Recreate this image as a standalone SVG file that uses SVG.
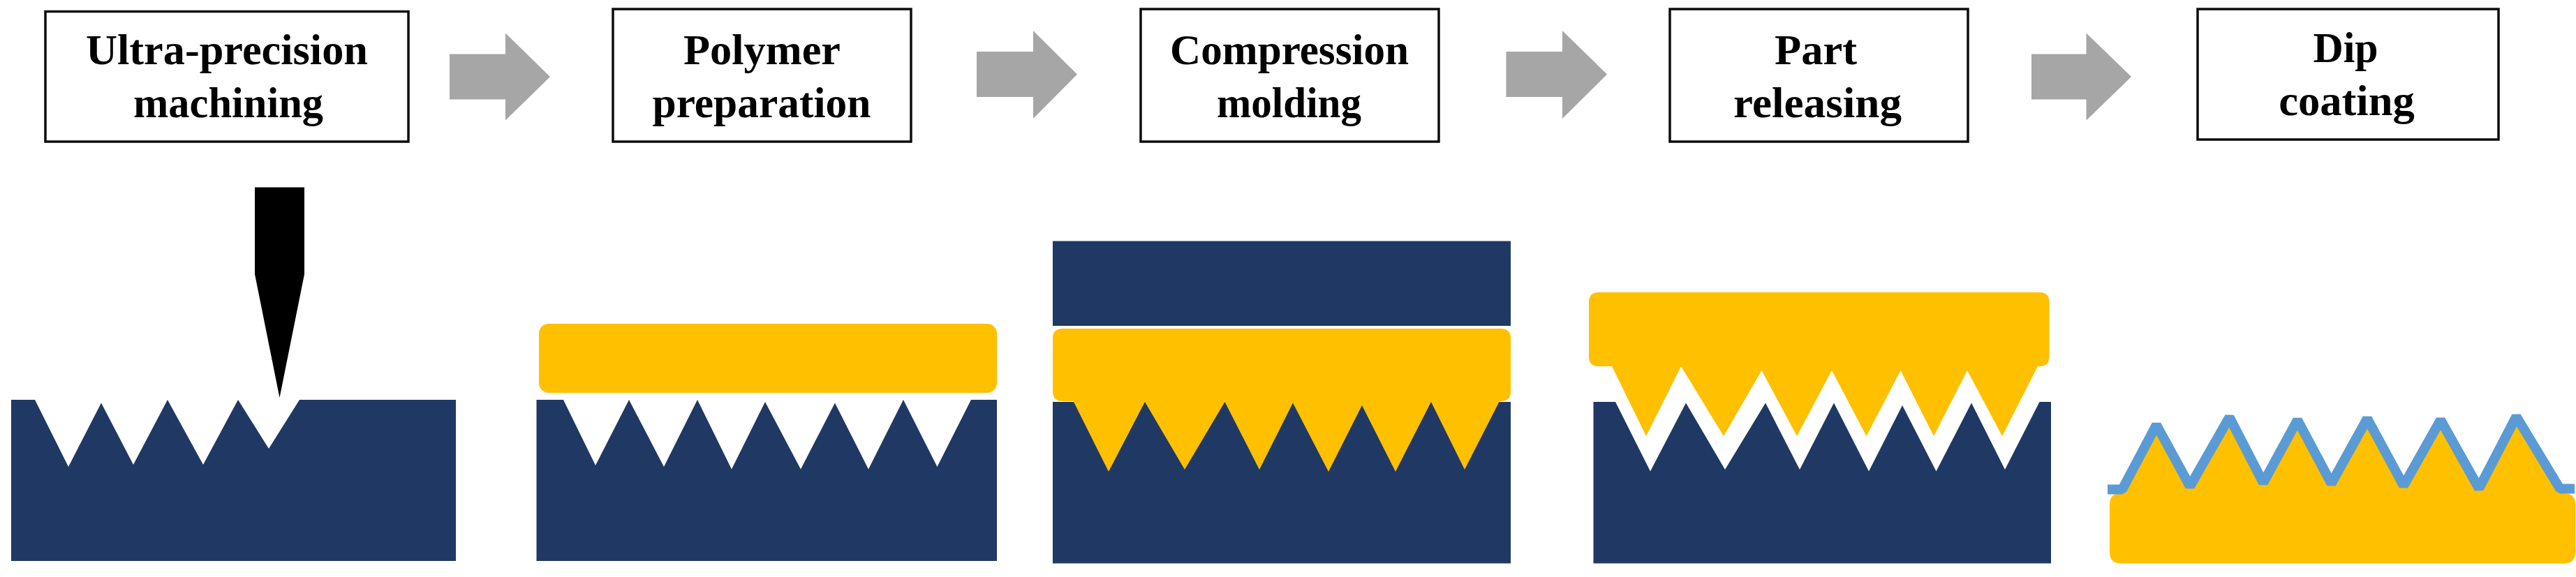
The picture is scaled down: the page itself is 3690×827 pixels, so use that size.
<svg xmlns="http://www.w3.org/2000/svg" width="3690" height="827" viewBox="0 0 3690 827">
<style>
.box{fill:#fff;stroke:#0d0d0d;stroke-width:3.500}
.lbl{font-family:"Liberation Serif","Times New Roman",serif;font-weight:bold;font-size:62px;text-anchor:middle;fill:#000}
.navy{fill:#203864}
.poly{fill:#ffc000}
.arrow{fill:#a6a6a6}
.coat{fill:none;stroke:#5b9bd5;stroke-width:14;stroke-linejoin:bevel}
</style>
<rect width="3690" height="827" fill="#fff"/>
<g id="connectors">
<path class="arrow" d="M644 77.500H724V47.500L788 110L724 172.500V142.500H644Z"/>
<path class="arrow" d="M1399 74H1480V44L1543 106.500L1480 170V139H1399Z"/>
<path class="arrow" d="M2157.500 74H2238V44L2302 106.500L2238 170V139H2157.500Z"/>
<path class="arrow" d="M2910 77.500H2988.500V47.500L3053 110L2988.500 172.500V142.500H2910Z"/>
</g>
<g id="step-1-label"><rect class="box" x="65" y="16.500" width="520" height="186.500"/><text class="lbl" x="325" y="92" textLength="404" lengthAdjust="spacingAndGlyphs">Ultra-precision</text><text class="lbl" x="327" y="168" textLength="272" lengthAdjust="spacingAndGlyphs">machining</text></g>
<g id="step-2-label"><rect class="box" x="878" y="13" width="427" height="190"/><text class="lbl" x="1091.500" y="92" textLength="225" lengthAdjust="spacingAndGlyphs">Polymer</text><text class="lbl" x="1091" y="168" textLength="313" lengthAdjust="spacingAndGlyphs">preparation</text></g>
<g id="step-3-label"><rect class="box" x="1634" y="13" width="427" height="190"/><text class="lbl" x="1847" y="92" textLength="342" lengthAdjust="spacingAndGlyphs">Compression</text><text class="lbl" x="1846.500" y="168" textLength="207" lengthAdjust="spacingAndGlyphs">molding</text></g>
<g id="step-4-label"><rect class="box" x="2392" y="13" width="427" height="190"/><text class="lbl" x="2601" y="92" textLength="118" lengthAdjust="spacingAndGlyphs">Part</text><text class="lbl" x="2603.500" y="168" textLength="241" lengthAdjust="spacingAndGlyphs">releasing</text></g>
<g id="step-5-label"><rect class="box" x="3148" y="13" width="431" height="187"/><text class="lbl" x="3360" y="89" textLength="93" lengthAdjust="spacingAndGlyphs">Dip</text><text class="lbl" x="3361.500" y="165" textLength="194.500" lengthAdjust="spacingAndGlyphs">coating</text></g>
<g id="step-1-art">
<path d="M365 268.500H436V393L400.500 570L365 393Z" fill="#000"/>
<path class="navy" d="M16 573H50L98 669L145 577.500L191 666L240 573L291 666L341 573L385 643L429 573H653V804H16Z"/>
</g>
<g id="step-2-art">
<path class="navy" d="M768.500 573H807L853 667L901 573L951 669L999 573L1048 672.500L1096 576L1147 672.500L1196 577.500L1244 672.500L1294 573L1342.500 669L1391 573H1428V804H768.500Z"/>
<rect class="poly" x="772" y="464" width="656" height="99" rx="14"/>
</g>
<g id="step-3-art">
<rect class="navy" x="1508" y="345.500" width="656" height="121.500"/>
<rect class="navy" x="1508" y="576" width="656" height="231.500"/>
<path class="poly" d="M1522 471H2150Q2164 471 2164 485V561Q2164 575 2150 575H2148L2098 673L2050 576L1999 676L1951 581L1903 676L1852 577.500L1804 673L1754.500 576L1697 673L1640 576L1588 676L1537.500 575H1522Q1508 575 1508 561V485Q1508 471 1522 471Z"/>
</g>
<g id="step-4-art">
<path class="navy" d="M2282.500 576H2314L2364 675.500L2415 577.500L2471 673L2529 577.500L2578 673L2627 577.500L2677 675.500L2725 581L2773.500 675.500L2824 577.500L2872 673L2921.500 576H2938V807.500H2282.500Z"/>
<path class="poly" d="M2290 419H2921.500Q2935.500 419 2935.500 433V511Q2935.500 525 2921.500 525H2919L2868 625L2818 531L2770 625L2722.500 531L2673.500 625L2624 531L2574 625L2523.500 531L2469 625L2408 525L2358 625L2309 525H2290Q2276 525 2276 511V433Q2276 419 2290 419Z"/>
</g>
<g id="step-5-art">
<path class="poly" d="M3022 723Q3022 707 3038 707L3089 612L3137 697L3193.500 601L3242 689L3291 605L3339.500 690L3391 603L3443 693L3496 605L3551 697L3604.500 600L3667 705L3673 707Q3689 707 3689 723V791.500Q3689 807.500 3673 807.500H3038Q3022 807.500 3022 791.500Z"/>
<path class="coat" d="M3019 701.500H3040L3089 609L3137 697L3193.500 598L3242 692L3291 602L3339.500 693L3391 600L3443 696L3496 602L3551 700L3604.500 597L3667 700.500H3688"/>
</g>
</svg>
